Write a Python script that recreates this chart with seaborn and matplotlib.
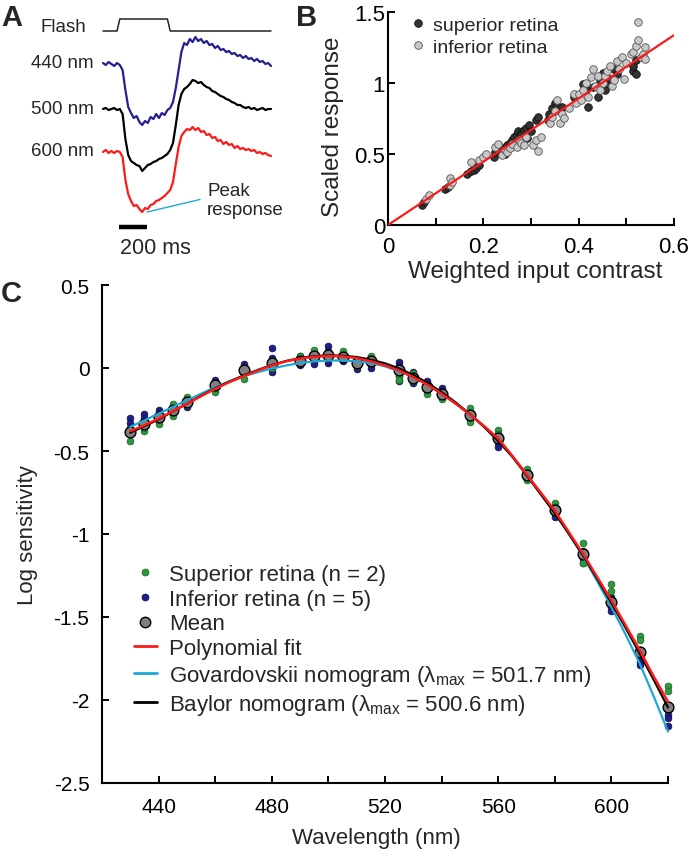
import numpy as np
import pandas as pd
import matplotlib
matplotlib.use("Agg")
import matplotlib.pyplot as plt
import seaborn as sns
from matplotlib.lines import Line2D

# ---------------- data: panel A (responses, arbitrary units vs time in ms) ----------------
trace_t = list(range(0, 1201, 20))
resp_440 = [1, -1, 2, 0, -2, 1, -1, -6, -26, -43, -49, -54, -52, -58, -61, -57, -59, -53, -55, -50,
            -54, -49, -51, -46, -44, -38, -24, -6, 12, 21, 19, 25, 22, 27, 23, 25, 21, 23, 19, 20,
            16, 18, 14, 15, 12, 13, 10, 11, 8, 9, 6, 8, 5, 6, 3, 5, 2, 3, 0, 1, -2]
resp_500 = [0, 1, -1, 0, 1, -1, 0, -5, -30, -46, -52, -54, -56, -57, -62, -59, -56, -55, -53, -52,
            -50, -49, -47, -45, -41, -34, -16, 4, 15, 20, 22, 25, 29, 28, 26, 27, 24, 22, 21, 18,
            17, 15, 13, 12, 10, 9, 7, 6, 4, 4, 2, 1, 2, 0, 1, -1, 0, 1, -1, 0, 0]
resp_600 = [0, 2, -1, 1, -1, 1, 0, -5, -28, -42, -49, -54, -53, -57, -60, -56, -57, -53, -52, -49,
            -48, -46, -44, -41, -38, -30, -12, 5, 16, 20, 23, 22, 25, 22, 24, 20, 21, 17, 18, 14,
            15, 11, 12, 8, 10, 7, 8, 4, 6, 3, 4, 2, 3, 1, 2, -1, 0, -2, -1, -3, -4]
flash_t = [0, 100, 120, 460, 480, 1200]
flash_on = [0, 0, 1, 1, 0, 0]
trace_labels = ["440 nm", "500 nm", "600 nm"]

# ---------------- data: panel B ----------------
sup_x = [0.072, 0.075, 0.12, 0.125, 0.165, 0.175, 0.18, 0.185, 0.19, 0.222, 0.225, 0.23, 0.235, 0.24,
         0.245, 0.25, 0.255, 0.26, 0.265, 0.27, 0.272, 0.278, 0.28, 0.285, 0.29, 0.292, 0.295, 0.30,
         0.31, 0.315, 0.335, 0.338, 0.345, 0.35, 0.355, 0.36, 0.365, 0.39, 0.395, 0.41, 0.415, 0.42,
         0.43, 0.44, 0.445, 0.45, 0.455, 0.46, 0.465, 0.475, 0.48, 0.515, 0.515, 0.52, 0.52]
sup_y = [0.14, 0.16, 0.25, 0.27, 0.36, 0.38, 0.39, 0.40, 0.42, 0.48, 0.51, 0.53, 0.55, 0.52,
         0.50, 0.56, 0.58, 0.60, 0.62, 0.64, 0.66, 0.65, 0.63, 0.67, 0.68, 0.61, 0.70, 0.66,
         0.74, 0.76, 0.74, 0.78, 0.82, 0.86, 0.84, 0.80, 0.83, 0.90, 0.88, 0.99, 0.95, 0.83,
         0.97, 0.90, 1.02, 1.07, 0.95, 1.00, 1.03, 1.10, 1.06, 1.08, 1.12, 1.16, 1.06]
inf_x = [0.08, 0.085, 0.13, 0.13, 0.135, 0.175, 0.19, 0.2, 0.205, 0.225, 0.23, 0.24, 0.245, 0.25,
         0.255, 0.26, 0.27, 0.275, 0.28, 0.285, 0.29, 0.305, 0.31, 0.315, 0.32, 0.34, 0.345, 0.35,
         0.355, 0.36, 0.365, 0.37, 0.38, 0.39, 0.395, 0.40, 0.405, 0.41, 0.415, 0.42, 0.425, 0.43,
         0.435, 0.44, 0.445, 0.45, 0.455, 0.46, 0.465, 0.47, 0.475, 0.48, 0.485, 0.49, 0.495, 0.50,
         0.51, 0.515, 0.52, 0.525, 0.525, 0.53, 0.535, 0.54, 0.54]
inf_y = [0.18, 0.21, 0.28, 0.33, 0.30, 0.44, 0.46, 0.48, 0.50, 0.55, 0.57, 0.49, 0.53, 0.51,
         0.54, 0.57, 0.55, 0.60, 0.58, 0.56, 0.62, 0.56, 0.60, 0.52, 0.62, 0.72, 0.76, 0.80,
         0.88, 0.72, 0.78, 0.75, 0.82, 0.92, 0.86, 0.92, 0.88, 0.95, 1.00, 0.90, 1.04, 1.10,
         0.98, 1.05, 0.95, 1.00, 1.05, 1.08, 1.12, 0.98, 1.02, 1.15, 1.10, 1.18, 1.03, 1.14,
         1.20, 1.22, 1.26, 1.30, 1.43, 1.18, 1.20, 1.25, 1.17]
fit_x = [0.0, 0.6]
fit_y = [0.0, 1.335]

# ---------------- data: panel C ----------------
wl = [430, 435, 440, 445, 450, 460, 470, 480, 490, 495, 500, 505, 510, 515, 525, 530, 535, 540,
      550, 560, 570, 580, 590, 600, 610, 620]
mean_sens = [-0.386, -0.335, -0.296, -0.25, -0.205, -0.10, -0.01, 0.03, 0.045, 0.07, 0.08, 0.065,
             0.03, 0.045, -0.015, -0.06, -0.115, -0.155, -0.285, -0.42, -0.645, -0.856, -1.12,
             -1.41, -1.71, -2.045]
sup_r1 = [-0.44, -0.38, -0.34, -0.216, -0.176, -0.146, -0.066, 0.0, 0.07, 0.11, 0.09, 0.10, 0.02,
          0.074, -0.05, -0.03, -0.156, -0.186, -0.242, -0.376, -0.606, -0.816, -1.056, -1.302,
          -1.613, -1.913]
sup_r2 = [-0.37, -0.36, -0.31, -0.29, -0.22, -0.12, -0.02, 0.02, 0.04, 0.06, 0.06, 0.07, 0.01,
          0.03, -0.07, -0.08, -0.13, -0.16, -0.326, -0.40, -0.676, -0.84, -1.176, -1.346,
          -1.637, -1.947]
inf_r1 = [-0.30, -0.28, -0.25, -0.23, -0.19, -0.07, 0.024, 0.118, 0.07, 0.09, 0.134, 0.08, 0.05,
          0.06, 0.034, -0.022, -0.08, -0.122, -0.27, -0.41, -0.63, -0.85, -1.10, -1.38, -1.70, -2.03]
inf_r2 = [-0.33, -0.30, -0.27, -0.24, -0.20, -0.09, 0.0, 0.06, 0.05, 0.08, 0.10, 0.07, 0.04,
          0.05, 0.01, -0.04, -0.10, -0.14, -0.28, -0.42, -0.64, -0.86, -1.12, -1.40, -1.72, -2.06]
inf_r3 = [-0.36, -0.32, -0.29, -0.25, -0.21, -0.10, -0.01, 0.03, 0.04, 0.07, 0.08, 0.06, 0.03,
          0.04, -0.02, -0.06, -0.12, -0.15, -0.29, -0.43, -0.65, -0.87, -1.13, -1.42, -1.74, -2.09]
inf_r4 = [-0.39, -0.34, -0.30, -0.26, -0.232, -0.11, -0.02, 0.0, 0.03, 0.05, 0.06, 0.05, 0.02,
          0.02, -0.05, -0.08, -0.13, -0.16, -0.30, -0.45, -0.66, -0.88, -1.15, -1.44, -1.77, -2.107]
inf_r5 = [-0.40, -0.35, -0.32, -0.27, -0.22, -0.12, -0.03, -0.026, 0.02, 0.024, 0.03, 0.04, -0.005,
          0.0, -0.08, -0.09, -0.14, -0.17, -0.31, -0.476, -0.67, -0.896, -1.176, -1.466, -1.791, -2.157]
curve_wl = list(range(430, 621, 5))
poly_fit = [-0.38, -0.345, -0.305, -0.26, -0.215, -0.17, -0.125, -0.085, -0.05, -0.015, 0.015,
            0.04, 0.057, 0.068, 0.072, 0.07, 0.06, 0.04, 0.015, -0.015, -0.055, -0.10, -0.155,
            -0.215, -0.28, -0.35, -0.425, -0.53, -0.64, -0.75, -0.86, -0.99, -1.12, -1.26, -1.40,
            -1.55, -1.70, -1.86, -2.01]
govardovskii = [-0.355, -0.315, -0.275, -0.235, -0.195, -0.155, -0.115, -0.08, -0.05, -0.025,
                -0.003, 0.015, 0.03, 0.04, 0.045, 0.045, 0.04, 0.03, 0.01, -0.02, -0.055, -0.10,
                -0.155, -0.215, -0.28, -0.35, -0.43, -0.53, -0.64, -0.755, -0.87, -1.0, -1.135,
                -1.285, -1.44, -1.605, -1.78, -1.98, -2.19]
baylor = [-0.39, -0.35, -0.31, -0.262, -0.215, -0.167, -0.122, -0.082, -0.045, -0.012, 0.018,
          0.042, 0.06, 0.071, 0.076, 0.074, 0.066, 0.05, 0.028, -0.003, -0.042, -0.09, -0.145,
          -0.208, -0.278, -0.355, -0.44, -0.535, -0.645, -0.76, -0.875, -1.0, -1.13, -1.27,
          -1.415, -1.565, -1.72, -1.88, -2.045]
c_xticks = [440, 460, 480, 500, 520, 540, 560, 580, 600, 620]
c_xticklabels = ["440", "", "480", "", "520", "", "560", "", "600", ""]
c_yticks = [0.5, 0.0, -0.5, -1.0, -1.5, -2.0, -2.5]
c_yticklabels = ["0.5", "0", "-0.5", "-1", "-1.5", "-2", "-2.5"]
b_xticks = [0, 0.1, 0.2, 0.3, 0.4, 0.5, 0.6]
b_xticklabels = ["0", "", "0.2", "", "0.4", "", "0.6"]
b_yticks = [0, 0.5, 1.0, 1.5]
b_yticklabels = ["0", "0.5", "1", "1.5"]

# ---------------- style ----------------
sns.set_theme(style="ticks")
plt.rcParams["font.family"] = ["Liberation Sans", "DejaVu Sans"]
plt.rcParams["axes.unicode_minus"] = False
plt.rcParams["mathtext.fontset"] = "custom"
plt.rcParams["mathtext.rm"] = "Liberation Sans"
plt.rcParams["mathtext.it"] = "Liberation Sans:italic"

C_BLUE_TRACE = "#24208f"
C_RED = "#ff1a1a"
C_CYAN = "#1ea7d8"
C_GREEN = "#2e9a40"
C_NAVY = "#1e1e86"

fig = plt.figure(figsize=(6.94, 8.53), dpi=100)
W, H = 694.0, 853.0

# ================= Panel A =================
axA = fig.add_axes([0, 1 - 270 / H, 340 / W, 270 / H])
axA.set_axis_off()
px_per_ms = 0.14
axA.set_xlim(-103 / px_per_ms, (340 - 103) / px_per_ms)
axA.set_ylim(-270, 0)

offsets = [-65, -110, -153]
colors_A = [C_BLUE_TRACE, "black", C_RED]
for vals, off, col in zip([resp_440, resp_500, resp_600], offsets, colors_A):
    sns.lineplot(x=trace_t, y=np.array(vals) + off, ax=axA, color=col, lw=1.6,
                 estimator=None, sort=False)
sns.lineplot(x=flash_t, y=np.array(flash_on) * 12 - 32, ax=axA, color="#222222", lw=1.1,
             estimator=None, sort=False)
axA.text((86 - 103) / px_per_ms, -28, "Flash", ha="right", va="center", fontsize=13.5)
for lab, off in zip(trace_labels, [-63, -110, -152]):
    axA.text((94 - 103) / px_per_ms, off, lab, ha="right", va="center", fontsize=13.5)
axA.plot([114, 314], [-228, -228], color="black", lw=3.2, solid_capstyle="butt")
axA.text(121, -248, "200 ms", ha="left", va="center", fontsize=15.5)
axA.plot([314, 693], [-213, -200.5], color=C_CYAN, lw=1.0)
axA.text(743, -201, "Peak\nresponse", ha="left", va="center", fontsize=13.5, linespacing=1.15)

# ================= Panel B =================
axB = fig.add_axes([388 / W, 1 - 226 / H, 286 / W, 213.3 / H])
sns.scatterplot(x=sup_x, y=sup_y, ax=axB, color="#333333", edgecolor="#111111", s=30,
                linewidth=0.6, zorder=3, legend=False)
sns.scatterplot(x=inf_x, y=inf_y, ax=axB, color="#c8c8c8", edgecolor="#555555", s=30,
                linewidth=0.6, zorder=3, legend=False)
sns.lineplot(x=fit_x, y=fit_y, ax=axB, color=C_RED, lw=1.6, zorder=4)
axB.set_xlim(0, 0.6)
axB.set_ylim(0, 1.5)
axB.set_xticks(b_xticks)
axB.set_xticklabels(b_xticklabels)
axB.set_yticks(b_yticks)
axB.set_yticklabels(b_yticklabels)
axB.tick_params(axis="both", direction="in", length=5, width=1.4, labelsize=16, colors="black")
axB.tick_params(axis="y", pad=2)
axB.tick_params(axis="x", pad=8)
for s in ["top", "right"]:
    axB.spines[s].set_visible(False)
for s in ["left", "bottom"]:
    axB.spines[s].set_linewidth(1.5)
    axB.spines[s].set_color("black")
axB.set_xlabel("Weighted input contrast", fontsize=17.5)
axB.set_ylabel("Scaled response", fontsize=17.5)
axB.xaxis.set_label_coords(0.514, -0.165)
axB.yaxis.set_label_coords(-0.155, 0.465)
hB = [Line2D([], [], ls="", marker="o", markersize=5.5, markerfacecolor="#333333",
             markeredgecolor="#111111", markeredgewidth=0.6),
      Line2D([], [], ls="", marker="o", markersize=5.5, markerfacecolor="#c8c8c8",
             markeredgecolor="#555555", markeredgewidth=0.6)]
axB.legend(hB, ["superior retina", "inferior retina"], loc="upper left",
           bbox_to_anchor=(0.075, 0.977), frameon=False, fontsize=14, handlelength=0.9,
           handletextpad=0.3, labelspacing=0.22, borderpad=0, borderaxespad=0)

# ================= Panel C =================
axC = fig.add_axes([102 / W, 1 - 784 / H, 566 / W, 498 / H])
inf_df = pd.DataFrame({"wl": wl * 5, "val": inf_r1 + inf_r2 + inf_r3 + inf_r4 + inf_r5})
sup_df = pd.DataFrame({"wl": wl * 2, "val": sup_r1 + sup_r2})
mean_df = pd.DataFrame({"wl": wl, "val": mean_sens})
sns.scatterplot(data=inf_df, x="wl", y="val", ax=axC, color=C_NAVY, edgecolor="#10104a",
                s=24, linewidth=0.5, zorder=2, legend=False, clip_on=False)
sns.scatterplot(data=sup_df, x="wl", y="val", ax=axC, color=C_GREEN, edgecolor="#1a5e26",
                s=24, linewidth=0.5, zorder=2, legend=False, clip_on=False)
sns.scatterplot(data=mean_df, x="wl", y="val", ax=axC, color="#808080", edgecolor="black",
                s=60, linewidth=1.0, zorder=3, legend=False, clip_on=False)
sns.lineplot(x=curve_wl, y=govardovskii, ax=axC, color=C_CYAN, lw=1.6, zorder=4)
sns.lineplot(x=curve_wl, y=baylor, ax=axC, color="black", lw=1.6, zorder=5)
sns.lineplot(x=curve_wl, y=poly_fit, ax=axC, color=C_RED, lw=1.8, zorder=6)
for ln in axC.lines:
    ln.set_clip_on(False)
axC.set_xlim(420, 620)
axC.set_ylim(-2.5, 0.5)
axC.set_xticks(c_xticks)
axC.set_xticklabels(c_xticklabels)
axC.set_yticks(c_yticks)
axC.set_yticklabels(c_yticklabels)
axC.tick_params(axis="both", direction="in", length=5, width=1.4, labelsize=15, colors="black")
axC.tick_params(axis="y", pad=9)
axC.tick_params(axis="x", pad=10)
for s in ["top", "right"]:
    axC.spines[s].set_visible(False)
for s in ["left", "bottom"]:
    axC.spines[s].set_linewidth(1.5)
    axC.spines[s].set_color("black")
axC.set_xlabel("Wavelength (nm)", fontsize=16)
axC.set_ylabel("Log sensitivity", fontsize=16)
axC.xaxis.set_label_coords(0.485, -0.088)
axC.yaxis.set_label_coords(-0.113, 0.5)
hC = [Line2D([], [], ls="", marker="o", markersize=5, markerfacecolor=C_GREEN,
             markeredgecolor="#1a5e26", markeredgewidth=0.5),
      Line2D([], [], ls="", marker="o", markersize=5, markerfacecolor=C_NAVY,
             markeredgecolor="#10104a", markeredgewidth=0.5),
      Line2D([], [], ls="", marker="o", markersize=7.5, markerfacecolor="#808080",
             markeredgecolor="black", markeredgewidth=1.0),
      Line2D([], [], color=C_RED, lw=2),
      Line2D([], [], color=C_CYAN, lw=2),
      Line2D([], [], color="black", lw=2)]
labC = ["Superior retina (n = 2)", "Inferior retina (n = 5)", "Mean", "Polynomial fit",
        "Govardovskii nomogram (λ$_{\\mathregular{max}}$ = 501.7 nm)",
        "Baylor nomogram (λ$_{\\mathregular{max}}$ = 500.6 nm)"]
axC.legend(hC, labC, loc="upper left", bbox_to_anchor=(0.056, 0.44), frameon=False,
           fontsize=16, handlelength=1.05, handletextpad=0.55, labelspacing=0.17,
           borderpad=0, borderaxespad=0)

# panel letters
fig.text(1 / W, 1 - 4 / H, "A", fontsize=21, fontweight="bold", va="top", ha="left")
fig.text(296 / W, 1 - 4 / H, "B", fontsize=21, fontweight="bold", va="top", ha="left")
fig.text(1 / W, 1 - 280 / H, "C", fontsize=21, fontweight="bold", va="top", ha="left")

fig.savefig("out.png", dpi=100)
